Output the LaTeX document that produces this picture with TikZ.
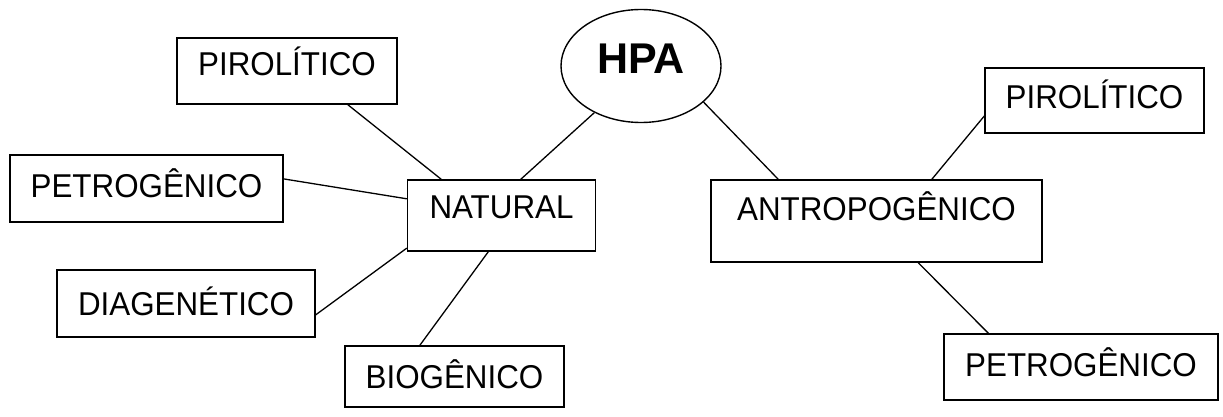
\documentclass[tikz,border=0pt]{standalone}
\usepackage{fontspec}
\setmainfont{Liberation Sans}
\newfontfamily\boxfont[FakeStretch=0.95]{Liberation Sans}
\usetikzlibrary{shapes.geometric}
\begin{document}
\begin{tikzpicture}[x=1pt,y=1pt,
  box/.style={draw, line width=1.4pt, rectangle, inner sep=0pt,
    font=\boxfont\fontsize{33}{39}\selectfont, text height=23.6pt},
  conn/.style={line width=1.3pt}]
\useasboundingbox (0,0) rectangle (1223,416);
\node[draw, line width=1.4pt, ellipse, inner sep=0pt, minimum width=160pt, minimum height=113pt,
  font=\fontsize{43}{50}\selectfont\bfseries, text height=31pt, text depth=15pt] (hpa) at (641,350) {HPA};
\node[box, minimum width=220pt, minimum height=66pt, text depth=14pt] (pirL) at (287,345) {PIROLÍTICO};
\node[box, minimum width=273pt, minimum height=67pt, text depth=6pt] (petL) at (146.5,227.5) {PETROGÊNICO};
\node[box, minimum width=188pt, minimum height=71pt, text depth=17pt] (nat) at (501.5,200.5) {NATURAL};
\node[box, minimum width=258pt, minimum height=67pt, text depth=0pt] (dia) at (186,112.5) {DIAGENÉTICO};
\node[box, minimum width=219pt, minimum height=61pt, text depth=0pt] (bio) at (454.5,39.5) {BIOGÊNICO};
\node[box, minimum width=331pt, minimum height=82pt, text depth=24pt] (ant) at (876.5,195) {ANTROPOGÊNICO};
\node[box, minimum width=219pt, minimum height=65pt, text depth=8pt] (pirR) at (1094.5,315.5) {PIROLÍTICO};
\node[box, minimum width=274pt, minimum height=66pt, text depth=4pt] (petR) at (1081,49) {PETROGÊNICO};
\draw[conn] (pirL.-29.6) -- (nat.149.3);
\draw[conn] (hpa.-135) -- (nat.62.8);
\draw[conn] (hpa.-30.5) -- (ant.157.4);
\draw[conn] (petL.4.8) -- (nat.170.9);
\draw[conn] (dia.-5.5) -- (nat.199.4);
\draw[conn] (nat.-110.4) -- (bio.138.5);
\draw[conn] (pirR.188.6) -- (ant.37.5);
\draw[conn] (ant.-45.3) -- (petR.160.8);
\end{tikzpicture}
\end{document}
